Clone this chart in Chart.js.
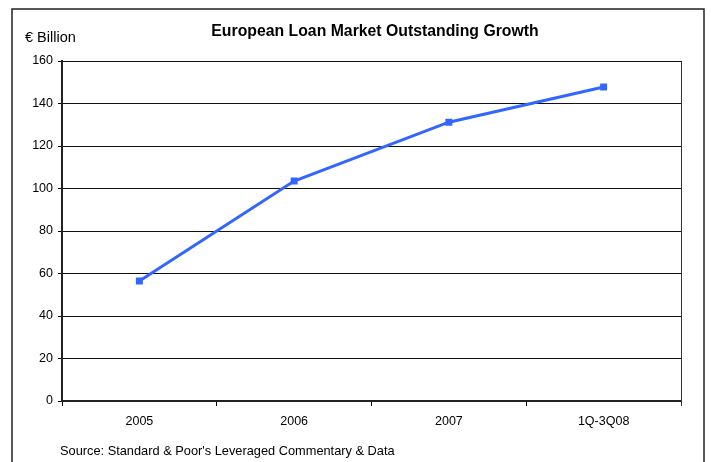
<!DOCTYPE html>
<html>
<head>
<meta charset="utf-8">
<script src="https://cdn.jsdelivr.net/npm/chart.js@4"></script>
<style>
  html, body { margin: 0; padding: 0; background: #fff; }
  canvas { display: block; }
</style>
</head>
<body>
<canvas id="loanChart" width="711" height="462"></canvas>
<script>
const periods = ["2005", "2006", "2007", "1Q-3Q08"];
const outstanding = [56.5, 103.5, 131.2, 147.8];
const yTicks = [0, 20, 40, 60, 80, 100, 120, 140, 160];

const chartTitle = "European Loan Market Outstanding Growth";
const unitLabel = "€ Billion";
const sourceNote = "Source: Standard & Poor's Leveraged Commentary & Data";

const FONT = "'Liberation Sans', Arial, sans-serif";

// frame, heading, unit and source note around the plot
const decorations = {
  id: "decorations",
  beforeDraw(chart) {
    const c = chart.ctx;
    c.save();
    c.fillStyle = "#fff";
    c.fillRect(0, 0, chart.width, chart.height);
    c.strokeStyle = "#222";
    c.lineWidth = 1.5;
    c.strokeRect(12, 9, 692, 470);
    c.restore();
  },
  afterDatasetsDraw(chart) {
    // right edge of the plot area
    const a = chart.chartArea;
    const c = chart.ctx;
    c.save();
    c.strokeStyle = "#333";
    c.lineWidth = 1;
    c.beginPath();
    c.moveTo(a.right + 0.5, a.top);
    c.lineTo(a.right + 0.5, a.bottom + 5);
    c.stroke();
    c.restore();
  },
  afterDraw(chart) {
    const c = chart.ctx;
    c.save();
    c.fillStyle = "#000";
    c.textBaseline = "middle";
    c.font = "bold 15.8px " + FONT;
    c.textAlign = "center";
    c.fillText(chartTitle, 375, 32);
    c.font = "14.5px " + FONT;
    c.textAlign = "left";
    c.fillText(unitLabel, 25, 38);
    c.font = "12.8px " + FONT;
    c.fillText(sourceNote, 60, 451);
    c.restore();
  }
};

new Chart(document.getElementById("loanChart"), {
  type: "line",
  data: {
    labels: periods,
    datasets: [{
      data: outstanding,
      borderColor: "#3366ff",
      backgroundColor: "#3366ff",
      borderWidth: 3,
      pointStyle: "rect",
      pointRadius: 2.8,
      pointHoverRadius: 2.8,
      tension: 0,
      fill: false
    }]
  },
  options: {
    responsive: false,
    animation: false,
    events: [],
    layout: { padding: { left: 0, top: 61, right: 30, bottom: 0 } },
    plugins: {
      legend: { display: false },
      title: { display: false },
      tooltip: { enabled: false }
    },
    scales: {
      x: {
        offset: true,
        afterFit(axis) { axis.height = 61; },
        grid: {
          offset: true,
          drawOnChartArea: false,
          tickColor: "#000",
          tickLength: 5
        },
        border: { display: true, color: "#222", width: 2 },
        ticks: {
          color: "#000",
          font: { family: FONT, size: 12.5 },
          padding: 8,
          maxRotation: 0
        }
      },
      y: {
        min: 0,
        max: 160,
        afterFit(axis) { axis.width = 62; },
        afterBuildTicks(axis) { axis.ticks = yTicks.map(v => ({ value: v })); },
        grid: {
          color: "#111",
          lineWidth: 1,
          tickColor: "#000",
          tickLength: 4
        },
        border: { display: true, color: "#222", width: 2 },
        ticks: {
          color: "#000",
          font: { family: FONT, size: 12.5 },
          padding: 5
        }
      }
    }
  },
  plugins: [decorations]
});
</script>
</body>
</html>
